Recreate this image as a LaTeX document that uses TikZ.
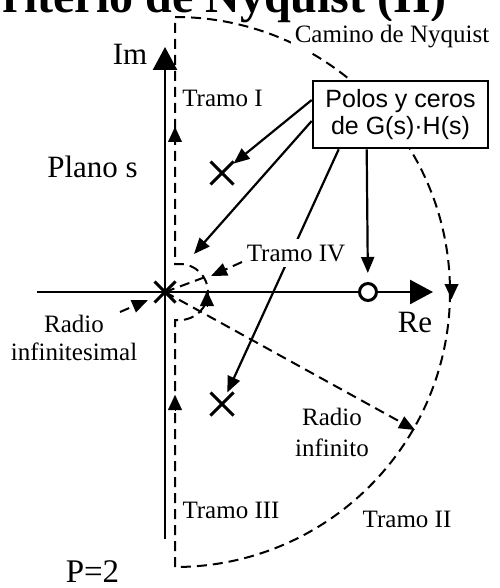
\documentclass[tikz,border=0pt]{standalone}
\usepackage{fontspec}
\setmainfont{Liberation Serif}
\newfontfamily\sansfam{Liberation Sans}
\usetikzlibrary{arrows.meta,calc,shapes.misc}
\begin{document}
\begin{tikzpicture}[x=1pt,y=-1pt,
  axis/.style={line width=2.6pt, -{Triangle[length=23pt,width=24pt]}},
  nyq/.style={line width=2pt, dash pattern=on 10pt off 6pt},
  ptr/.style={line width=2.2pt, -{Triangle[length=16pt,width=13pt]}},
  dptr/.style={line width=2pt, dash pattern=on 10pt off 6pt, -{Triangle[length=16pt,width=13pt]}},
  pathtip/.style={line width=0.1pt, -{Triangle[length=15pt,width=14pt]}},
  pole/.style={draw, cross out, line width=3pt, minimum size=20pt, inner sep=0pt},
  big/.style={font=\fontsize{31}{36}\selectfont},
  small/.style={font=\fontsize{25}{30}\selectfont},
]
\useasboundingbox (0,0) rectangle (499,588);

% title (cut at top-left, as in the original)
\node[anchor=base east, font=\fontsize{48}{56}\selectfont\bfseries, inner sep=0pt] (title) at (447,13) {Criterio de Nyquist (II)};

% axes
\coordinate (O) at (165,292);
\coordinate (imB) at (165,539);
\coordinate (imT) at (165,47);
\coordinate (reL) at (37,292);
\coordinate (reR) at (433,292);
\draw[axis] (imB) -- (imT);
\draw[axis] (reL) -- (reR);

% Nyquist path
\draw[nyq] (175,567) -- (175,320) -- (180,320) arc[start angle=90,end angle=-90,radius=28]
  -- (175,264) -- (175,17) arc[start angle=-90,end angle=90,radius=275];

% radii
\coordinate (sr) at (208,276);
\coordinate (br) at (415,430);
\draw[nyq] (O) -- (sr);
\draw[dptr] (O) -- (br);

% arrows on the path
\coordinate (a1s) at (175,143); \coordinate (a1e) at (175,127);
\coordinate (a3s) at (175,411); \coordinate (a3e) at (175,395);
\coordinate (a2s) at (451.5,284); \coordinate (a2e) at (451.5,299);
\coordinate (a4s) at (207,306); \coordinate (a4e) at (207,291);
\draw[pathtip] (a1s) -- (a1e);
\draw[pathtip] (a3s) -- (a3e);
\draw[pathtip] (a2s) -- (a2e);
\draw[pathtip] (a4s) -- (a4e);

% box
\node[draw, line width=2.6pt, fill=white, minimum width=175pt, minimum height=67pt,
  align=center, font=\sansfam\fontsize{25}{27}\selectfont, inner sep=0pt] (box) at (400.5,114.5)
  {Polos y ceros\\de G(s)·H(s)};

% poles and zero
\node[circle, draw, line width=3pt, minimum size=17pt, inner sep=0pt, fill=white] (Z) at (368,292) {};
\node[pole] (P1) at (222,173) {};
\node[pole] (P2) at (222,404) {};
\node[pole, minimum size=18pt] (P0) at (O) {};

% pointers from box
\coordinate (t2) at (194,254);
\draw[ptr] ($(box.west)+(0,-14.5)$) -- (P1);
\draw[ptr] ($(box.west)+(0,6.5)$) -- (t2);
\draw[ptr] ($(box.south west)+(27,0)$) -- (P2);
\draw[ptr, shorten >=9pt] ($(box.south west)+(55,0)$) -- (Z);

% labels
\node[big, anchor=base] (im) at (130,65) {Im};
\node[big, anchor=base] (re) at (415,332) {Re};
\node[big, anchor=base] (plano) at (92.5,177) {Plano s};
\node[anchor=base, font=\fontsize{33}{38}\selectfont] (pp) at (92.5,582) {P=2};
\node[small, anchor=base, fill=white, inner xsep=4pt, inner ysep=5pt] (cam) at (392,43) {Camino de Nyquist};
\node[small, anchor=base] (t1) at (222.5,107) {Tramo I};
\node[small, anchor=base, fill=white, inner xsep=2pt, inner ysep=6pt] (t4) at (296,261) {Tramo IV};
\node[small, anchor=base] (t3) at (231,518) {Tramo III};
\node[small, anchor=base] (t2l) at (407,527) {Tramo II};
\node[align=center, font=\fontsize{25}{31}\selectfont] (rinf) at (332,432) {Radio\\infinito};
\node[align=center, font=\fontsize{25}{28}\selectfont] (rinfs) at (74,338) {Radio\\infinitesimal};

% label pointers (dashed)
\coordinate (ris) at (120,312); \coordinate (rie) at (148,300);
\coordinate (t4s) at (242,262); \coordinate (t4e) at (211,276);
\draw[dptr] (ris) -- (rie);
\draw[dptr] (t4s) -- (t4e);
\end{tikzpicture}
\end{document}
